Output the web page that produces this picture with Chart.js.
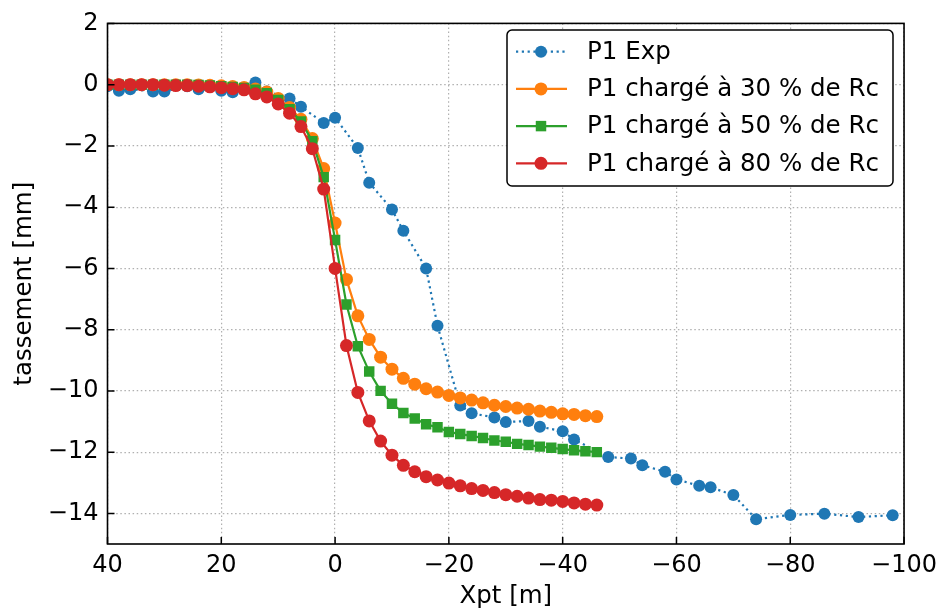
<!DOCTYPE html>
<html>
<head>
<meta charset="utf-8">
<script src="https://cdn.jsdelivr.net/npm/chart.js@4.4.1/dist/chart.umd.min.js"></script>
<style>
  html, body { margin: 0; padding: 0; background: #fff; }
  canvas { display: block; }
</style>
</head>
<body>
<canvas id="chart" width="944" height="614"></canvas>
<script>
// distances along the profile (m) for the simulated curves
const xSim = [40, 38, 36, 34, 32, 30, 28, 26, 24, 22, 20, 18, 16, 14, 12, 10, 8, 6, 4, 2, 0,
  -2, -4, -6, -8, -10, -12, -14, -16, -18, -20, -22, -24, -26, -28, -30, -32, -34, -36, -38,
  -40, -42, -44, -46];

const y30 = [0, 0, 0, 0, 0, 0, 0, 0, -0.01, -0.02, -0.04, -0.06, -0.09, -0.14, -0.24, -0.45,
  -0.75, -1.13, -1.76, -2.74, -4.52, -6.36, -7.55, -8.32, -8.90, -9.29, -9.59, -9.78, -9.93,
  -10.04, -10.15, -10.23, -10.30, -10.39, -10.47, -10.51, -10.56, -10.60, -10.66, -10.70,
  -10.75, -10.77, -10.81, -10.84];

const y50 = [0, 0, 0, 0, 0, 0, 0, 0, -0.01, -0.03, -0.05, -0.08, -0.11, -0.17, -0.28, -0.5,
  -0.8, -1.2, -1.85, -3.02, -5.07, -7.18, -8.54, -9.37, -10.0, -10.42, -10.72, -10.9, -11.09,
  -11.19, -11.34, -11.41, -11.47, -11.54, -11.62, -11.66, -11.73, -11.77, -11.82, -11.86,
  -11.90, -11.94, -11.97, -12.0];

const y80 = [0, 0, 0, 0, 0, -0.02, -0.03, -0.03, -0.05, -0.07, -0.1, -0.13, -0.17, -0.3, -0.4,
  -0.63, -0.93, -1.37, -2.09, -3.41, -6.0, -8.52, -10.05, -10.98, -11.64, -12.1, -12.43, -12.64,
  -12.8, -12.91, -13.01, -13.1, -13.19, -13.25, -13.32, -13.39, -13.44, -13.5, -13.55, -13.57,
  -13.61, -13.66, -13.7, -13.73];

// measured settlement
const xExp = [40, 38, 36, 32, 30, 26, 24, 20, 18, 14, 12, 8, 6, 2, 0, -4, -6, -10, -12, -16, -18,
  -22, -24, -28, -30, -34, -36, -40, -42, -48, -52, -54, -58, -60, -64, -66, -70, -74, -80,
  -86, -92, -98];
const yExp = [-0.05, -0.2, -0.15, -0.22, -0.22, -0.05, -0.15, -0.2, -0.25, 0.07, -0.22, -0.45,
  -0.72, -1.25, -1.08, -2.07, -3.2, -4.08, -4.77, -6.0, -7.87, -10.48, -10.73, -10.87, -11.02,
  -10.98, -11.17, -11.32, -11.59, -12.16, -12.21, -12.43, -12.64, -12.89, -13.10, -13.15,
  -13.4, -14.19, -14.05, -14.01, -14.12, -14.06];

const xTicks = [40, 20, 0, -20, -40, -60, -80, -100];
const yTicks = [2, 0, -2, -4, -6, -8, -10, -12, -14];

const FONT = 'DejaVu Sans';

function pts(xs, ys) {
  return xs.map((x, i) => ({ x: x, y: ys[i] }));
}
function fmt(v) {
  return String(v).replace('-', '\u2212');
}

const framePlugin = {
  id: 'frame',
  afterDraw(chart) {
    const ctx = chart.ctx;
    const a = chart.chartArea;
    const xs = chart.scales.x, ys = chart.scales.y;
    ctx.save();
    ctx.strokeStyle = '#000';
    ctx.lineWidth = 1.5;
    ctx.setLineDash([]);
    ctx.beginPath();
    xTicks.forEach(v => {
      const px = xs.getPixelForValue(v);
      ctx.moveTo(px, a.bottom);
      ctx.lineTo(px, a.bottom - 7);
    });
    yTicks.forEach(v => {
      const py = ys.getPixelForValue(v);
      ctx.moveTo(a.left, py);
      ctx.lineTo(a.left + 7, py);
    });
    ctx.stroke();
    ctx.lineWidth = 1.6;
    ctx.strokeRect(a.left, a.top, a.right - a.left, a.bottom - a.top);

    // legend
    const bx = 507, by = 30, bw = 386, bh = 156, r = 5;
    ctx.beginPath();
    ctx.moveTo(bx + r, by);
    ctx.arcTo(bx + bw, by, bx + bw, by + bh, r);
    ctx.arcTo(bx + bw, by + bh, bx, by + bh, r);
    ctx.arcTo(bx, by + bh, bx, by, r);
    ctx.arcTo(bx, by, bx + bw, by, r);
    ctx.closePath();
    ctx.fillStyle = '#fff';
    ctx.fill();
    ctx.lineWidth = 1.5;
    ctx.stroke();

    chart.data.datasets.forEach((ds, i) => {
      const cy = 51.7 + i * 37.2;
      ctx.save();
      ctx.strokeStyle = ds.borderColor;
      ctx.lineWidth = ds.borderWidth;
      ctx.setLineDash(ds.borderDash || []);
      ctx.beginPath();
      ctx.moveTo(516, cy);
      ctx.lineTo(567, cy);
      ctx.stroke();
      ctx.setLineDash([]);
      ctx.fillStyle = ds.pointBackgroundColor;
      ctx.strokeStyle = ds.pointBackgroundColor;
      Chart.helpers.drawPoint(ctx, {
        pointStyle: ds.pointStyle, radius: ds.pointRadius, rotation: 0, borderWidth: 0
      }, 541, cy);
      ctx.restore();
      ctx.fillStyle = '#000';
      ctx.font = '24.5px "' + FONT + '"';
      ctx.textBaseline = 'middle';
      ctx.textAlign = 'left';
      ctx.fillText(ds.label, 587, cy + 1);
    });
    ctx.restore();
  }
};

function ds(label, data, color, style, radius, dash, order) {
  return {
    label: label,
    data: data,
    borderColor: color,
    backgroundColor: color,
    pointBackgroundColor: color,
    pointBorderColor: color,
    pointBorderWidth: 0,
    pointStyle: style,
    pointRadius: radius,
    pointHoverRadius: radius,
    borderWidth: 2.2,
    borderDash: dash,
    tension: 0,
    fill: false,
    order: order
  };
}

new Chart(document.getElementById('chart'), {
  type: 'line',
  data: {
    datasets: [
      ds('P1 Exp', pts(xExp, yExp), '#1f77b4', 'circle', 6, [2.2, 3.6], 4),
      ds('P1 chargé à 30 % de Rc', pts(xSim, y30), '#ff7f0e', 'circle', 6.5, [], 3),
      ds('P1 chargé à 50 % de Rc', pts(xSim, y50), '#2ca02c', 'rect', 7.4, [], 2),
      ds('P1 chargé à 80 % de Rc', pts(xSim, y80), '#d62728', 'circle', 6.5, [], 1)
    ]
  },
  options: {
    responsive: false,
    animation: false,
    devicePixelRatio: 1,
    layout: { padding: { top: 16.5, right: 38, left: 0, bottom: 0 } },
    plugins: { legend: { display: false }, tooltip: { enabled: false } },
    scales: {
      x: {
        type: 'linear',
        min: -100,
        max: 40,
        reverse: true,
        afterBuildTicks: s => { s.ticks = xTicks.map(v => ({ value: v })); },
        afterFit: s => { s.height = 70; },
        grid: { color: '#b0b0b0', lineWidth: 1.2, drawTicks: false },
        border: { display: false, dash: [1.5, 2.6] },
        ticks: {
          autoSkip: false, maxRotation: 0, padding: 7, color: '#000',
          font: { family: FONT, size: 24 },
          callback: v => fmt(v)
        },
        title: {
          display: true, text: 'Xpt [m]', color: '#000',
          font: { family: FONT, size: 24.5 }, padding: { top: 0, bottom: 3 }
        }
      },
      y: {
        type: 'linear',
        min: -15,
        max: 2,
        afterBuildTicks: s => { s.ticks = yTicks.map(v => ({ value: v })); },
        afterFit: s => { s.width = 107.5; },
        grid: { color: '#b0b0b0', lineWidth: 1.2, drawTicks: false },
        border: { display: false, dash: [1.5, 2.6] },
        ticks: {
          autoSkip: false, padding: 9, color: '#000',
          font: { family: FONT, size: 24 },
          callback: v => fmt(v)
        },
        title: {
          display: true, text: 'tassement [mm]', color: '#000',
          font: { family: FONT, size: 24.5 }, padding: { top: 10, bottom: 0 }
        }
      }
    }
  },
  plugins: [framePlugin]
});
</script>
</body>
</html>
